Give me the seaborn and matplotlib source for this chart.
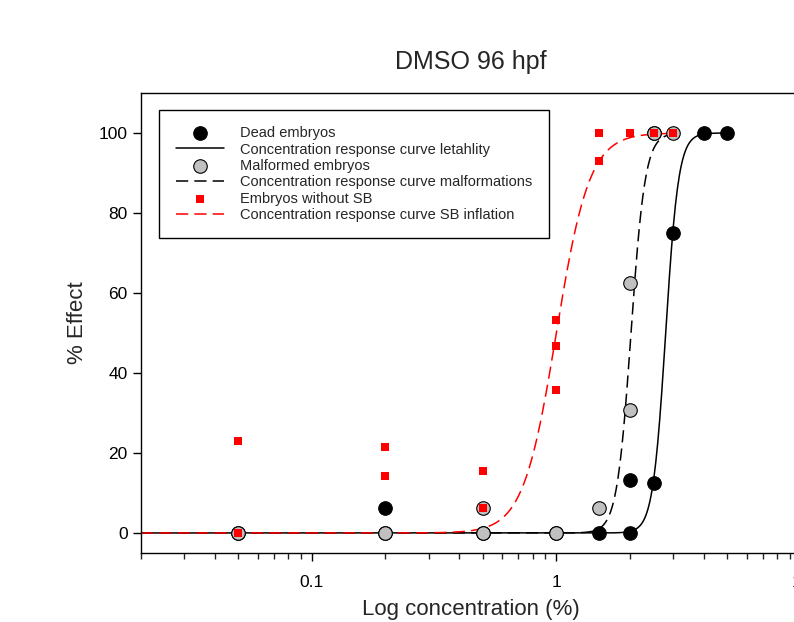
import numpy as np
import pandas as pd
import seaborn as sns
import matplotlib
matplotlib.use("Agg")
import matplotlib.pyplot as plt
from matplotlib.ticker import LogLocator, NullFormatter, FixedLocator

# measured points (concentration %, % effect)
dead_conc = [0.05, 0.2, 0.2, 0.5, 1.0, 1.5, 2.0, 2.0, 2.5, 2.5, 3.0, 4.0, 5.0]
dead_eff = [0, 6.25, 0, 0, 0, 0, 13.3, 0, 12.5, 100, 75, 100, 100]

malf_conc = [0.05, 0.2, 0.5, 0.5, 1.0, 1.5, 2.0, 2.0, 2.5, 3.0]
malf_eff = [0, 0, 0, 6.25, 0, 6.25, 62.5, 30.8, 100, 100]

sb_conc = [0.05, 0.05, 0.2, 0.2, 0.5, 0.5, 1.0, 1.0, 1.0, 1.5, 1.5, 2.0, 2.5, 3.0]
sb_eff = [23.1, 0, 21.4, 14.3, 15.4, 6.25, 53.3, 46.7, 35.7, 100, 92.9, 100, 100, 100]

# fitted concentration response curves: (EC50, hill slope, last conc)
fit_leth = (2.8, 16.5, 5.0)
fit_malf = (2.02, 15.0, 3.0)
fit_sb = (1.0, 6.4, 3.0)


def hill_curve(ec50, slope, xmax, xmin=0.02):
    x = np.geomspace(xmin, xmax, 600)
    y = 100.0 / (1.0 + (ec50 / x) ** slope)
    return pd.DataFrame({"conc": x, "effect": y})


sns.set_style("ticks")
plt.rcParams["font.family"] = ["Liberation Sans", "DejaVu Sans"]

fig = plt.figure(figsize=(7.94, 6.22), dpi=100)
ax = fig.add_axes([0.1776, 0.111, 0.831, 0.7395])

leth = hill_curve(*fit_leth)
malf = hill_curve(*fit_malf)
sb = hill_curve(*fit_sb)

sns.lineplot(data=leth, x="conc", y="effect", ax=ax, color="black", lw=1.1,
             label="Concentration response curve letahlity")
sns.lineplot(data=malf, x="conc", y="effect", ax=ax, color="black", lw=1.1,
             linestyle=(0, (8, 4)), label="Concentration response curve malformations")
sns.lineplot(data=sb, x="conc", y="effect", ax=ax, color="red", lw=1.1,
             linestyle=(0, (8, 4)), label="Concentration response curve SB inflation")

sns.scatterplot(x=dead_conc, y=dead_eff, ax=ax, color="black", edgecolor="black",
                s=95, linewidth=0.8, marker="o", label="Dead embryos", zorder=3)
sns.scatterplot(x=malf_conc, y=malf_eff, ax=ax, color="#c0c0c0", edgecolor="black",
                s=95, linewidth=0.8, marker="o", label="Malformed embryos", zorder=4)
sns.scatterplot(x=sb_conc, y=sb_eff, ax=ax, color="red", edgecolor="red",
                s=32, linewidth=0, marker="s", label="Embryos without SB", zorder=5)

ax.set_xscale("log")
ax.set_xlim(0.02, 10)
ax.set_ylim(-5, 110)
ax.yaxis.set_major_locator(FixedLocator([0, 20, 40, 60, 80, 100]))
ax.xaxis.set_major_locator(FixedLocator([0.1, 1, 10]))
ax.set_xticklabels(["0.1", "1", "10"])
ax.xaxis.set_minor_locator(LogLocator(base=10, subs=np.arange(2, 10)))
ax.xaxis.set_minor_formatter(NullFormatter())
ax.tick_params(axis="both", which="major", direction="out", length=6, width=1,
               labelsize=12.5, colors="black")
ax.tick_params(axis="x", which="major", pad=10)
ax.tick_params(axis="x", which="minor", direction="out", length=4, width=1)
for sp in ax.spines.values():
    sp.set_color("black")
    sp.set_linewidth(1.0)

ax.set_xlabel("Log concentration (%)", fontsize=16, labelpad=6)
ax.set_ylabel("% Effect", fontsize=16, labelpad=8)
ax.set_title("DMSO 96 hpf", fontsize=18, pad=17)

handles, labels = ax.get_legend_handles_labels()
order = ["Dead embryos", "Concentration response curve letahlity",
         "Malformed embryos", "Concentration response curve malformations",
         "Embryos without SB", "Concentration response curve SB inflation"]
hmap = dict(zip(labels, handles))
leg = ax.legend([hmap[k] for k in order], order, loc="upper left",
                bbox_to_anchor=(0.028, 0.963), fontsize=10.5, frameon=True,
                fancybox=False, edgecolor="black", framealpha=1,
                handlelength=3.35, labelspacing=0.17, borderpad=1.1,
                handletextpad=1.1, borderaxespad=0)
leg.get_frame().set_linewidth(1.0)

fig.savefig("out.png", dpi=100)
